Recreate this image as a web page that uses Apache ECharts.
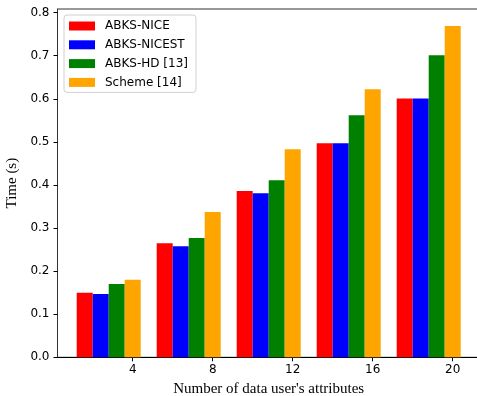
<!DOCTYPE html>
<html>
<head>
<meta charset="utf-8">
<script src="https://cdn.jsdelivr.net/npm/echarts@6/dist/echarts.min.js"></script>
<style>html,body{margin:0;padding:0;background:#fff}#c{width:477px;height:396px}</style>
</head>
<body>
<div id="c"></div>
<script>
const categories = [4, 8, 12, 16, 20];
const seriesNames = ['ABKS-NICE', 'ABKS-NICEST', 'ABKS-HD [13]', 'Scheme [14]'];
const abksNice   = [0.150, 0.265, 0.386, 0.497, 0.601];
const abksNicest = [0.147, 0.258, 0.381, 0.497, 0.601];
const abksHd     = [0.170, 0.277, 0.411, 0.562, 0.701];
const scheme14   = [0.180, 0.337, 0.483, 0.622, 0.769];
const yTicks = [0, 0.1, 0.2, 0.3, 0.4, 0.5, 0.6, 0.7, 0.8];
const colors = ['#ff0000', '#0000ff', '#008000', '#ffa500'];

const values = [abksNice, abksNicest, abksHd, scheme14];
const series = values.map((vals, i) => ({
  name: seriesNames[i],
  type: 'bar',
  barWidth: 16,
  barGap: '0%',
  itemStyle: { color: colors[i] },
  data: categories.map((c, j) => [c, vals[j]])
}));
// empty placeholder slots so that the 4th bar sits on the tick
for (let k = 0; k < 3; k++) {
  series.push({ name: '_pad' + k, type: 'bar', barWidth: 16, barGap: '0%', data: [] });
}

const chart = echarts.init(document.getElementById('c'), null, { renderer: 'canvas' });
chart.setOption({
  animation: false,
  grid: {
    left: 57.5, top: 9, width: 422.4, height: 348.3,
    outerBoundsMode: 'none', containLabel: false,
    show: true, borderColor: '#333', borderWidth: 1, backgroundColor: 'transparent'
  },
  legend: {
    data: seriesNames,
    orient: 'vertical',
    left: 64, top: 15,
    padding: [4, 8, 3, 5],
    itemWidth: 26, itemHeight: 9,
    itemGap: 4.8,
    borderColor: '#d0d0d0', borderWidth: 1, borderRadius: 3,
    backgroundColor: 'rgba(255,255,255,0.8)',
    icon: 'rect',
    textStyle: { fontFamily: 'DejaVu Sans', fontSize: 12, color: '#000', lineHeight: 14, padding: [0, 0, 0, 5] }
  },
  xAxis: {
    type: 'value',
    min: 0.24, max: 21.36,
    name: "Number of data user's attributes",
    nameLocation: 'middle', nameGap: 23,
    nameTextStyle: { fontFamily: 'Liberation Serif', fontSize: 15, color: '#000' },
    axisLine: { show: true, onZero: false, lineStyle: { color: '#000', width: 1 } },
    axisTick: { show: true, length: 4, customValues: categories, lineStyle: { color: '#000' } },
    axisLabel: { customValues: categories, fontFamily: 'DejaVu Sans', fontSize: 12, color: '#000', margin: 7 },
    splitLine: { show: false }
  },
  yAxis: {
    type: 'value',
    min: 0, max: 0.8085,
    name: 'Time (s)',
    nameLocation: 'middle', nameGap: 33,
    nameTextStyle: { fontFamily: 'Liberation Serif', fontSize: 15, color: '#000' },
    axisLine: { show: true, lineStyle: { color: '#333', width: 1 } },
    axisTick: { show: true, length: 4, customValues: yTicks, lineStyle: { color: '#000' } },
    axisLabel: { customValues: yTicks, fontFamily: 'DejaVu Sans', fontSize: 12, color: '#000', margin: 8,
      formatter: v => v.toFixed(1) },
    splitLine: { show: false }
  },
  series: series
});
</script>
</body>
</html>
